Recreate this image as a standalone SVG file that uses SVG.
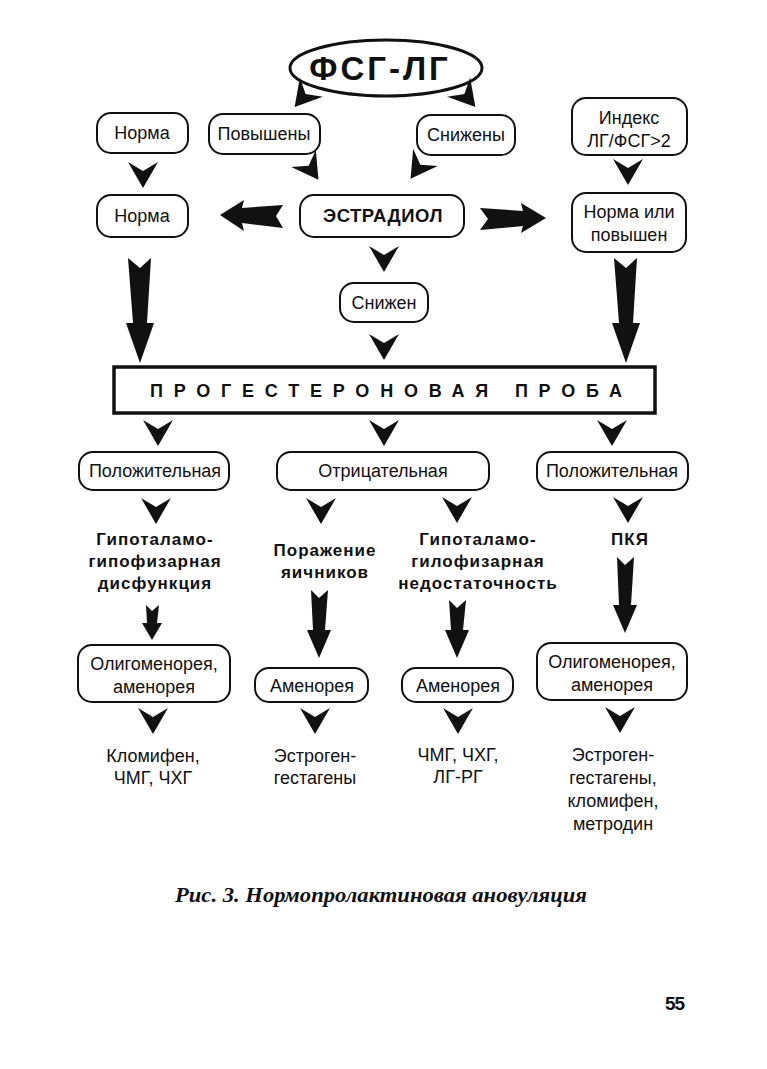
<svg xmlns="http://www.w3.org/2000/svg" xmlns:xlink="http://www.w3.org/1999/xlink" width="767" height="1069" viewBox="0 0 767 1069">
<defs>
<style>
.box{fill:#fff;stroke:#111;stroke-width:2}
.t{font-family:"Liberation Sans",Arial,sans-serif;font-size:18px;fill:#111;text-anchor:middle}
.b{font-family:"Liberation Sans",Arial,sans-serif;font-size:17px;font-weight:bold;fill:#111;text-anchor:middle;letter-spacing:1px}
.ar{fill:#111;stroke:none}
</style>
<path id="chev" d="M -15,-13 L 0,-4 L 15,-13 L 0,13 Z"/>
</defs>
<rect width="767" height="1069" fill="#fff"/>

<g id="n-fsg">
<ellipse cx="386" cy="68" rx="96" ry="28" fill="#fff" stroke="#111" stroke-width="3"/>
<text x="380" y="80" class="b" style="font-size:33px;letter-spacing:3px">ФСГ-ЛГ</text>
</g>
<g id="n-norma1"><rect class="box" x="97" y="113" width="91" height="40" rx="14"/><text class="t" x="142" y="139">Норма</text></g>
<g id="n-povysheny"><rect class="box" x="209" y="114" width="111" height="40" rx="14"/><text class="t" x="264" y="140">Повышены</text></g>
<g id="n-snizheny"><rect class="box" x="417" y="115" width="98" height="40" rx="14"/><text class="t" x="466" y="141">Снижены</text></g>
<g id="n-index"><rect class="box" x="572" y="98" width="115" height="57" rx="14"/><text class="t" x="629" y="124">Индекс</text><text class="t" x="629" y="147">ЛГ/ФСГ&gt;2</text></g>
<g id="n-norma2"><rect class="box" x="97" y="195" width="91" height="42" rx="14"/><text class="t" x="142" y="222">Норма</text></g>
<g id="n-estradiol"><rect class="box" x="300" y="195" width="164" height="42" rx="14"/><text class="b" x="383" y="222" style="font-size:18.5px;letter-spacing:0.5px">ЭСТРАДИОЛ</text></g>
<g id="n-normaili"><rect class="box" x="572" y="193" width="114" height="59" rx="14"/><text class="t" x="629" y="218">Норма или</text><text class="t" x="629" y="241">повышен</text></g>
<g id="n-snizhen"><rect class="box" x="340" y="283" width="88" height="39" rx="14"/><text class="t" x="384" y="309">Снижен</text></g>
<g id="n-proba"><rect x="114" y="367" width="541" height="46" fill="#fff" stroke="#111" stroke-width="3.5"/><text x="150" y="397" textLength="472" lengthAdjust="spacing" style="font-family:'Liberation Sans',Arial,sans-serif;font-size:18px;font-weight:bold;fill:#111">ПРОГЕСТЕРОНОВАЯ ПРОБА</text></g>
<g id="n-pol1"><rect class="box" x="79" y="452" width="150" height="38" rx="14"/><text class="t" x="155" y="477">Положительная</text></g>
<g id="n-otr"><rect class="box" x="277" y="452" width="212" height="38" rx="14"/><text class="t" x="383" y="477">Отрицательная</text></g>
<g id="n-pol2"><rect class="box" x="537" y="452" width="151" height="38" rx="14"/><text class="t" x="612" y="477">Положительная</text></g>
<g id="n-dysf"><text class="b" x="155" y="545">Гипоталамо-</text><text class="b" x="155" y="567">гипофизарная</text><text class="b" x="155" y="589">дисфункция</text></g>
<g id="n-porazh"><text class="b" x="325" y="556">Поражение</text><text class="b" x="325" y="578">яичников</text></g>
<g id="n-nedost"><text class="b" x="478" y="545">Гипоталамо-</text><text class="b" x="478" y="567">гилофизарная</text><text class="b" x="478" y="589">недостаточность</text></g>
<g id="n-pkya"><text class="b" x="630" y="545">ПКЯ</text></g>
<g id="n-olig1"><rect class="box" x="78" y="645" width="152" height="57" rx="14"/><text class="t" x="154" y="670">Олигоменорея,</text><text class="t" x="154" y="693">аменорея</text></g>
<g id="n-amen1"><rect class="box" x="255" y="668" width="113" height="34" rx="14"/><text class="t" x="312" y="692">Аменорея</text></g>
<g id="n-amen2"><rect class="box" x="402" y="668" width="111" height="34" rx="14"/><text class="t" x="458" y="692">Аменорея</text></g>
<g id="n-olig2"><rect class="box" x="537" y="643" width="150" height="57" rx="14"/><text class="t" x="612" y="668">Олигоменорея,</text><text class="t" x="612" y="691">аменорея</text></g>
<g id="n-tx1"><text class="t" x="153" y="762">Кломифен,</text><text class="t" x="153" y="784">ЧМГ, ЧХГ</text></g>
<g id="n-tx2"><text class="t" x="315" y="762">Эстроген-</text><text class="t" x="315" y="784">гестагены</text></g>
<g id="n-tx3"><text class="t" x="458" y="761">ЧМГ, ЧХГ,</text><text class="t" x="458" y="783">ЛГ-РГ</text></g>
<g id="n-tx4"><text class="t" x="613" y="761">Эстроген-</text><text class="t" x="613" y="784">гестагены,</text><text class="t" x="613" y="807">кломифен,</text><text class="t" x="613" y="830">метродин</text></g>

<g id="connectors" class="ar">
<use xlink:href="#chev" transform="translate(303,97) rotate(40)"/>
<use xlink:href="#chev" transform="translate(467,97) rotate(-40)"/>
<use xlink:href="#chev" transform="translate(311,169) rotate(-35)"/>
<use xlink:href="#chev" transform="translate(418,168) rotate(35)"/>
<use xlink:href="#chev" transform="translate(143,175)"/>
<use xlink:href="#chev" transform="translate(628,172)"/>
<use xlink:href="#chev" transform="translate(384,259)"/>
<use xlink:href="#chev" transform="translate(384,347)"/>
<path d="M 220,215 L 244,200 L 242,208 L 283,205 L 276,216 L 283,228 L 242,223 L 244,231 Z"/>
<path d="M 546,218 L 521,203 L 523,211 L 480,208 L 488,219 L 480,230 L 523,226 L 521,233 Z"/>
<path d="M 128,258 L 140,268 L 151,258 L 147,323 L 154,323 L 140,363 L 126,323 L 133,323 Z"/>
<path d="M 614,258 L 626,268 L 637,258 L 633,323 L 640,323 L 626,363 L 612,323 L 619,323 Z"/>
<use xlink:href="#chev" transform="translate(158,433)"/>
<use xlink:href="#chev" transform="translate(384,433)"/>
<use xlink:href="#chev" transform="translate(612,433)"/>
<use xlink:href="#chev" transform="translate(156,511)"/>
<use xlink:href="#chev" transform="translate(321,511)"/>
<use xlink:href="#chev" transform="translate(457,510)"/>
<use xlink:href="#chev" transform="translate(628,510)"/>
<path d="M 146,605 L 152,611 L 159,605 L 157,623 L 162,623 L 152,640 L 142,623 L 147,623 Z"/>
<path d="M 311,590 L 319,598 L 328,590 L 325,630 L 331,630 L 319,658 L 307,630 L 313,630 Z"/>
<path d="M 449,600 L 457,608 L 466,600 L 463,630 L 469,630 L 457,658 L 445,630 L 451,630 Z"/>
<path d="M 617,557 L 625,565 L 634,557 L 631,605 L 637,605 L 625,633 L 613,605 L 619,605 Z"/>
<use xlink:href="#chev" transform="translate(153,721)"/>
<use xlink:href="#chev" transform="translate(315,721)"/>
<use xlink:href="#chev" transform="translate(458,721)"/>
<use xlink:href="#chev" transform="translate(620,720)"/>
</g>

<g id="caption">
<text x="175" y="902" textLength="412" lengthAdjust="spacingAndGlyphs" style="font-family:'Liberation Serif','Times New Roman',serif;font-size:20px;font-weight:bold;font-style:italic;fill:#111">Рис. 3. Нормопролактиновая ановуляция</text>
<text x="665" y="1010" style="font-family:'Liberation Sans',Arial,sans-serif;font-size:19px;font-weight:bold;fill:#111;letter-spacing:-1px">55</text>
</g>
</svg>
